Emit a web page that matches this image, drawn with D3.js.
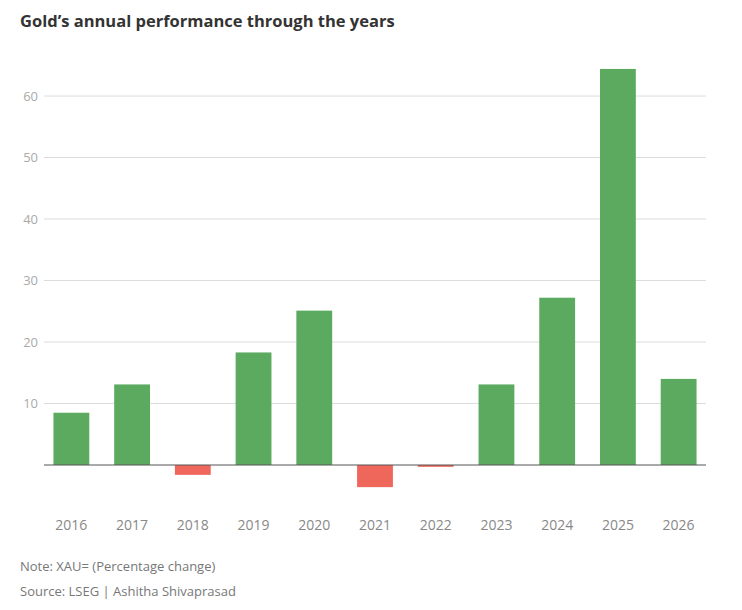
<!DOCTYPE html>
<html>
<head>
<meta charset="utf-8">
<script src="https://cdn.jsdelivr.net/npm/d3@7"></script>
<style>
  body { margin: 0; background: #fff; }
  svg text { font-family: "Open Sans", "Noto Sans", sans-serif; }
</style>
</head>
<body>
<div id="chart"></div>
<script>
// Yearly change of gold (XAU=), percent
const years = ["2016", "2017", "2018", "2019", "2020", "2021", "2022", "2023", "2024", "2025", "2026"]
const changes = [8.5, 13.1, -1.6, 18.3, 25.1, -3.6, -0.3, 13.1, 27.2, 64.4, 14.0]
const yTicks = [10, 20, 30, 40, 50, 60]

const width = 742
const height = 610
const upColour = "#5baa60"
const downColour = "#ef665b"

const svg = d3.select("#chart").append("svg")
    .attr("width", width)
    .attr("height", height)

// Title
svg.append("text")
    .attr("x", 20)
    .attr("y", 27)
    .style("font-size", "16.5px")
    .style("font-weight", "700")
    .style("fill", "#333")
    .text("Gold\u2019s annual performance through the years")

// Scales
const xScale = d3.scaleBand()
    .domain(years)
    .range([41, 709])
    .paddingInner(0.41)
    .paddingOuter(0.205)

const yScale = d3.scaleLinear()
    .domain([-5, 65])
    .range([495.75, 65.25])

// Gridlines and y labels
const grid = svg.append("g")
grid.selectAll("line")
    .data(yTicks)
    .join("line")
    .attr("x1", 44)
    .attr("x2", 706)
    .attr("y1", d => yScale(d))
    .attr("y2", d => yScale(d))
    .style("stroke", "#dcdcdc")
    .style("stroke-width", 1)

grid.selectAll("text")
    .data(yTicks)
    .join("text")
    .attr("x", 38)
    .attr("y", d => yScale(d))
    .attr("dy", "0.35em")
    .attr("text-anchor", "end")
    .style("font-size", "13px")
    .style("fill", "#aaa")
    .text(d => d)

// Bars
svg.append("g").selectAll("rect")
    .data(years)
    .join("rect")
    .attr("x", d => xScale(d))
    .attr("width", xScale.bandwidth())
    .attr("y", (d, i) => yScale(Math.max(0, changes[i])))
    .attr("height", (d, i) => Math.abs(yScale(changes[i]) - yScale(0)))
    .style("fill", (d, i) => changes[i] >= 0 ? upColour : downColour)

// Zero line
svg.append("line")
    .attr("x1", 44)
    .attr("x2", 706)
    .attr("y1", yScale(0))
    .attr("y2", yScale(0))
    .style("stroke", "#555")
    .style("stroke-width", 1)

// X labels
svg.append("g").selectAll("text")
    .data(years)
    .join("text")
    .attr("x", d => xScale(d) + xScale.bandwidth() / 2)
    .attr("y", 530)
    .attr("text-anchor", "middle")
    .style("font-size", "14px")
    .style("fill", "#888")
    .text(d => d)

// Footer
svg.append("text")
    .attr("x", 20)
    .attr("y", 571)
    .style("font-size", "13px")
    .style("fill", "#777")
    .text("Note: XAU= (Percentage change)")

svg.append("text")
    .attr("x", 20)
    .attr("y", 596)
    .style("font-size", "13px")
    .style("fill", "#777")
    .text("Source: LSEG | Ashitha Shivaprasad")
</script>
</body>
</html>
